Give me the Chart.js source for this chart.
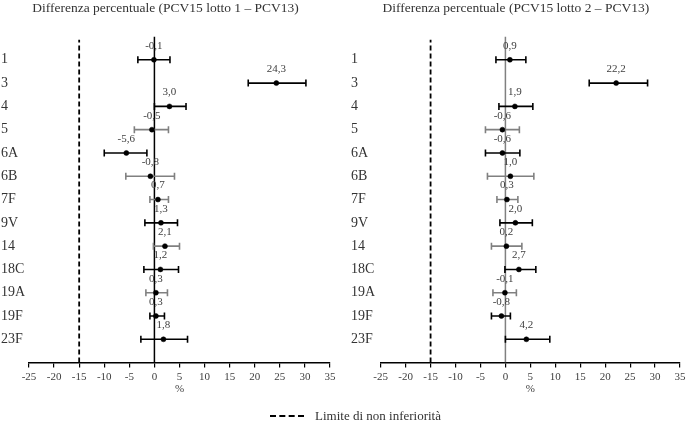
<!DOCTYPE html>
<html><head><meta charset="utf-8">
<script src="https://cdn.jsdelivr.net/npm/chart.js@4.4.1/dist/chart.umd.min.js"></script>
<style>
html,body{margin:0;padding:0;background:#fff;}
#wrap{position:relative;width:688px;height:423px;overflow:hidden;}
#c1{position:absolute;left:0;top:0;}
#c2{position:absolute;left:344px;top:0;}
#legend{position:absolute;left:270px;top:408px;font:13px "Liberation Serif",serif;color:#333;display:flex;align-items:center;white-space:nowrap;}
#legend .dash{display:inline-block;width:34px;height:0;border-top:2px dashed #000;margin-right:11px;}
</style></head>
<body><div id="wrap">
<canvas id="c1" width="344" height="423"></canvas>
<canvas id="c2" width="344" height="423"></canvas>
<div id="legend"><span class="dash"></span><span>Limite di non inferiorità</span></div>
</div>
<script>
// ---- data ----
const serotypes = ['1','3','4','5','6A','6B','7F','9V','14','18C','19A','19F','23F'];
const lot1Diff = [-0.1, 24.3, 3.0, -0.5, -5.6, -0.8, 0.7, 1.3, 2.1, 1.2, 0.3, 0.3, 1.8];
const lot1Low  = [-3.3, 18.7, 0.0, -4.0, -10.0, -5.7, -0.9, -1.9, -0.2, -2.1, -1.7, -0.9, -2.7];
const lot1High = [ 3.1, 30.2, 6.3,  2.8,  -1.5,  4.0,  2.8,  4.6,  5.0,  4.8,  2.6,  2.0,  6.6];
const lot2Diff = [0.9, 22.2, 1.9, -0.6, -0.6, 1.0, 0.3, 2.0, 0.2, 2.7, -0.1, -0.8, 4.2];
const lot2Low  = [-1.9, 16.8, -1.3, -4.0, -4.0, -3.6, -1.7, -1.1, -2.8, -0.1, -2.5, -2.8, 0.0];
const lot2High = [ 4.1, 28.5,  5.5,  2.8,  2.9,  5.7,  2.5,  5.4,  3.3,  6.1,  2.2,  1.0, 8.9];
const greyRows = [false,false,false,true,false,true,true,false,true,false,true,false,false];
const xMin = -25, xMax = 35, xStep = 5;
const nonInferiorityLimit = -15;
const titles = ['Differenza percentuale (PCV15 lotto 1 \u2013 PCV13)', 'Differenza percentuale (PCV15 lotto 2 \u2013 PCV13)'];
const axisTitle = '%';

const FONT = '"Liberation Serif", "DejaVu Serif", serif';
const nRows = serotypes.length;
const rowY = i => nRows - i;   // row 0 at top
const fmt = v => v.toFixed(1).replace('.', ',');

const valueLabels = {
  id: 'valueLabels',
  afterDatasetsDraw(chart, args, opts) {
    const {ctx, scales: {x, y}} = chart;
    ctx.save();
    ctx.font = '11px ' + FONT;
    ctx.fillStyle = '#404040';
    ctx.textAlign = 'center';
    ctx.textBaseline = 'middle';
    opts.values.forEach((v, i) => {
      ctx.fillText(fmt(v), x.getPixelForValue(v), y.getPixelForValue(rowY(i)) - 14);
    });
    ctx.restore();
  }
};

function makeChart(id, diff, low, high, opts) {
  const datasets = [];
  datasets.push({
    type: 'scatter',
    data: diff.map((v, i) => ({x: v, y: rowY(i)})),
    backgroundColor: '#000', borderColor: '#000', borderWidth: 0.5,
    pointRadius: 2.5, pointHoverRadius: 2.5
  });
  diff.forEach((v, i) => {
    const col = greyRows[i] ? '#808080' : '#000';
    datasets.push({
      type: 'line',
      data: [{x: low[i], y: rowY(i)}, {x: high[i], y: rowY(i)}],
      borderColor: col, borderWidth: 1.6,
      pointStyle: 'line', rotation: 90, pointRadius: 3.5,
      pointBorderColor: col, pointBorderWidth: 1.6, pointHoverRadius: 3.5
    });
  });
  datasets.push({
    type: 'line',
    data: [{x: nonInferiorityLimit, y: 0}, {x: nonInferiorityLimit, y: nRows + 0.86}],
    borderColor: '#000', borderWidth: 1.8, borderDash: [5, 3], pointRadius: 0
  });
  datasets.push({
    type: 'line',
    data: [{x: 0, y: 0}, {x: 0, y: nRows + 1}],
    borderColor: opts.zeroColor, borderWidth: 1.5, pointRadius: 0
  });

  return new Chart(document.getElementById(id), {
    type: 'scatter',
    data: {datasets},
    plugins: [valueLabels],
    options: {
      responsive: false, animation: false, devicePixelRatio: 1,
      layout: {padding: {left: opts.padLeft, right: opts.padRight, top: 0, bottom: 27.4}},
      plugins: {
        legend: {display: false}, tooltip: {enabled: false},
        title: {display: true, text: opts.title, color: '#333',
          font: {family: FONT, size: 13.5, weight: 'normal'}, padding: {top: 0.5, bottom: 19.8}},
        valueLabels: {values: diff}
      },
      scales: {
        x: {
          type: 'linear', min: xMin, max: xMax,
          ticks: {stepSize: xStep, color: '#404040', font: {family: FONT, size: 11}, padding: 2.5, maxRotation: 0},
          grid: {display: true, drawOnChartArea: false, drawTicks: true, tickLength: 5, color: '#000', lineWidth: 1.2},
          border: {display: true, color: '#000', width: 1.5},
          title: {display: true, text: axisTitle, color: '#404040', font: {family: FONT, size: 11}, padding: 0},
          afterFit: s => { s.height = 33; }
        },
        y: {
          type: 'linear', min: 0, max: nRows + 1,
          ticks: {stepSize: 1, crossAlign: 'far', color: '#333', font: {family: FONT, size: 14},
            callback: v => (v >= 1 && v <= nRows) ? serotypes[nRows - v] : ''},
          grid: {display: false, drawTicks: false},
          border: {display: false},
          afterFit: s => { s.width = opts.yWidth; }
        }
      }
    }
  });
}

makeChart('c1', lot1Diff, lot1Low, lot1High, {title: titles[0], zeroColor: '#000', padLeft: 1, padRight: 14, yWidth: 28});
makeChart('c2', lot2Diff, lot2Low, lot2High, {title: titles[1], zeroColor: '#808080', padLeft: 7, padRight: 7.3, yWidth: 29.7});
</script>
</body></html>
